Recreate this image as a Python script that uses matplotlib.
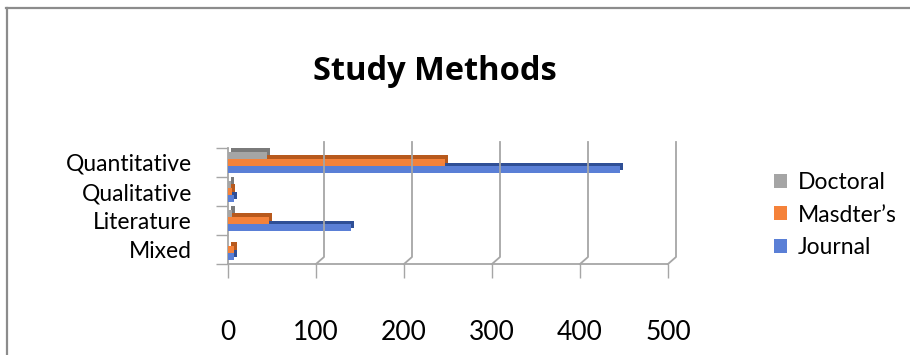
import matplotlib
matplotlib.use("Agg")
import matplotlib.pyplot as plt
import matplotlib.transforms as mtransforms
from matplotlib.lines import Line2D
from matplotlib.patches import Patch

# ---- data -------------------------------------------------------------
categories = ["Quantitative", "Qualitative", "Literature", "Mixed"]
series_names = ["Doctoral", "Masdter\u2019s", "Journal"]
doctoral = [44, 3, 5, 0]
masters = [247, 5, 47, 7]
journal = [445, 7, 140, 7]
x_ticks = [0, 100, 200, 300, 400, 500]

# ---- styling ----------------------------------------------------------
front_colors = ["#a5a5a5", "#f5823a", "#5a7fd6"]
side_colors = ["#7a7a7a", "#b8591c", "#2f4f96"]
grid_color = "#a6a6a6"
label_font = ["Lato", "DejaVu Sans"]

W, H, DPI = 910, 355, 100
fig = plt.figure(figsize=(W / DPI, H / DPI), dpi=DPI)
fig.patch.set_facecolor("white")

# outer frame (top and left edges)
fig.add_artist(Line2D([6 / W, 1], [1 - 8 / H, 1 - 8 / H], transform=fig.transFigure,
                      color="#8c8c8c", lw=1.6))
fig.add_artist(Line2D([7 / W, 7 / W], [0, 1 - 8 / H], transform=fig.transFigure,
                      color="#8c8c8c", lw=1.6))

fig.text(435 / W, 1 - 71 / H, "Study Methods", ha="center", va="center",
         fontsize=23.5, fontweight="bold", family=["Open Sans", "DejaVu Sans"])

ax = fig.add_axes([228 / W, 91 / H, 440 / W, 116 / H])
ax.set_xlim(0, 500)
ax.set_ylim(-0.5, len(categories) - 0.5)
ypos = [len(categories) - 1 - i for i in range(len(categories))]

bar_h = 0.25
offsets = [bar_h, 0.0, -bar_h]
all_series = [doctoral, masters, journal]

# pixel offset for the darker top/end face of each bar
depth = mtransforms.ScaledTranslation(3 / DPI, 3.5 / DPI, fig.dpi_scale_trans)

# draw from bottom series up so upper bars sit in front
for k in [2, 1, 0]:
    vals = all_series[k]
    ys = [y + offsets[k] for y in ypos]
    ax.barh(ys, vals, height=bar_h, color=side_colors[k], linewidth=0,
            transform=ax.transData + depth, zorder=3 + (2 - k) * 2)
    ax.barh(ys, vals, height=bar_h, color=front_colors[k], linewidth=0,
            zorder=4 + (2 - k) * 2, label=series_names[k])

# back-wall gridlines with a short slant down to the floor ticks
fig.canvas.draw()
to_fig = fig.transFigure.inverted()
y_top = ax.transAxes.transform((0, 1))[1]
y_bot = ax.transAxes.transform((0, 0))[1]
for xv in x_ticks[1:]:
    xd = ax.transData.transform((xv, 0))[0]
    pts = [(xd + 8, y_top + 6), (xd + 8, y_bot + 7), (xd, y_bot)]
    fpts = to_fig.transform(pts)
    fig.add_artist(Line2D(fpts[:, 0], fpts[:, 1], transform=fig.transFigure,
                          color=grid_color, lw=1.3, zorder=1))

# axes styling
for s in ["top", "right"]:
    ax.spines[s].set_visible(False)
for s in ["left", "bottom"]:
    ax.spines[s].set_color(grid_color)
    ax.spines[s].set_linewidth(1.3)

ax.set_xticks(x_ticks)
ax.set_xticklabels([str(v) for v in x_ticks], family=label_font, fontsize=19)
ax.tick_params(axis="x", length=10, width=1.0, color=grid_color, pad=30)

ax.set_yticks(ypos)
ax.set_yticklabels(categories, family=label_font, fontsize=16.5)
ax.tick_params(axis="y", which="major", length=0, pad=26)
ax.set_yticks([i - 0.5 for i in range(len(categories) + 1)], minor=True)
ax.tick_params(axis="y", which="minor", length=9, width=1.0, color=grid_color)
ax.set_facecolor("none")

# legend
handles = [Patch(facecolor=front_colors[k], edgecolor="none") for k in range(3)]
fig.legend(handles, series_names, loc="center left",
           bbox_to_anchor=(763 / W, 1 - 215 / H), frameon=False,
           prop={"family": label_font, "size": 16.5}, handlelength=0.55,
           handleheight=0.55, handletextpad=0.45, labelspacing=0.5,
           borderpad=0)

fig.savefig("out.png", dpi=DPI)
